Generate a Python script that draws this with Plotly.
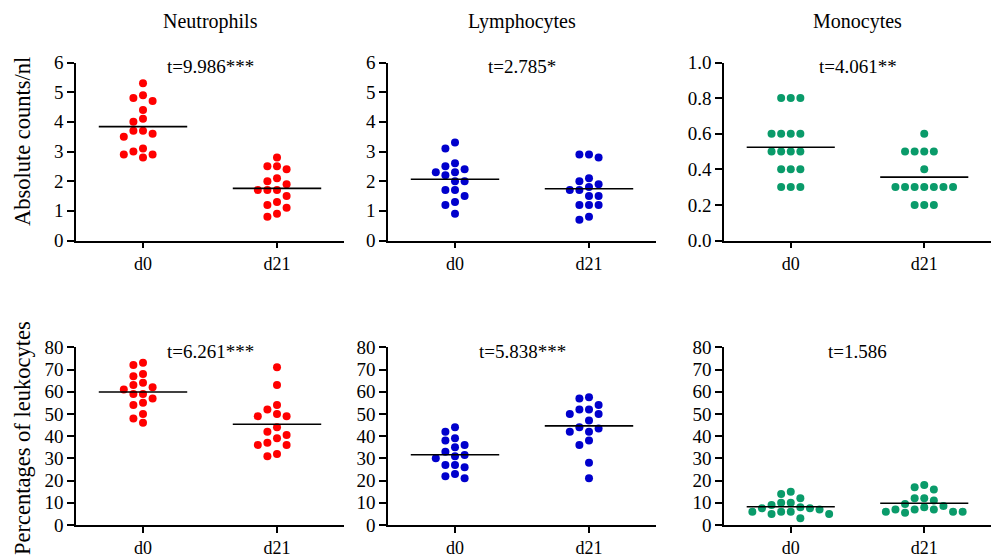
import numpy as np
import plotly.graph_objects as go

W, H = 992, 557

categories = ["d0", "d21"]
cell_types = ["Neutrophils", "Lymphocytes", "Monocytes"]
row_titles = ["Absolute counts/nl", "Percentages of leukocytes"]

# Absolute counts (cells/nl)
neut_abs_d0 = [5.3, 4.7, 4.8, 4.9, 4.4, 4.1, 4.0, 3.7, 3.6, 3.7, 3.5, 3.1, 2.9, 2.9, 2.8, 3.0]
neut_abs_d21 = [2.8, 2.4, 2.5, 2.5, 2.0, 2.1, 1.9, 1.7, 1.7, 1.7, 1.5, 1.3, 1.1, 1.2, 0.8, 0.9]
lymph_abs_d0 = [3.3, 3.1, 2.6, 2.4, 2.5, 2.3, 2.3, 2.2, 2.0, 2.0, 1.7, 1.7, 1.5, 1.3, 1.2, 0.9]
lymph_abs_d21 = [2.9, 2.8, 2.9, 2.0, 2.1, 1.9, 1.8, 1.7, 1.7, 1.5, 1.5, 1.2, 1.2, 1.2, 0.7, 0.8]
mono_abs_d0 = [0.8, 0.8, 0.8, 0.6, 0.6, 0.6, 0.6, 0.5, 0.5, 0.5, 0.5, 0.4, 0.4, 0.4, 0.3, 0.3, 0.3]
mono_abs_d21 = [0.6, 0.5, 0.5, 0.5, 0.5, 0.4, 0.3, 0.3, 0.3, 0.3, 0.3, 0.3, 0.3, 0.2, 0.2, 0.2]

# Percentages of leukocytes
neut_pct_d0 = [72, 73, 67, 68, 64, 63, 62, 61, 59, 59, 57, 55, 54, 50, 48, 46]
neut_pct_d21 = [71, 63, 54, 52, 49, 49, 50, 44, 40.5, 42, 39, 36, 36, 37, 31, 32]
lymph_pct_d0 = [44, 42, 39, 38, 36, 35, 33, 31, 31.5, 30, 27, 27, 26, 23, 21, 22]
lymph_pct_d21 = [57, 57.5, 54, 52, 50, 52, 50, 47, 44, 43.5, 42, 42, 38, 36, 28, 21]
mono_pct_d0 = [15, 14, 12, 10, 10, 9, 8, 7.5, 7, 7.5, 6, 6, 6, 5, 5, 3]
mono_pct_d21 = [18, 16, 17, 12, 12, 11, 9.5, 8.5, 8, 7, 7, 6, 5.5, 6, 6, 7]

t_labels_abs = ["t=9.986***", "t=2.785*", "t=4.061**"]
t_labels_pct = ["t=6.261***", "t=5.838***", "t=1.586"]

abs_ranges = [6, 6, 1.0]
abs_dtick = [1, 1, 0.2]
pct_range = 80
pct_dtick = 10

colors = ["#FF0000", "#0000CC", "#0A9B6A"]

panels = [
    (neut_abs_d0, neut_abs_d21), (lymph_abs_d0, lymph_abs_d21), (mono_abs_d0, mono_abs_d21),
    (neut_pct_d0, neut_pct_d21), (lymph_pct_d0, lymph_pct_d21), (mono_pct_d0, mono_pct_d21),
]

FONT = "Liberation Serif"

# layout in pixels
x_dom_px = [(76, 344), (388, 656), (724, 991)]
y_dom_px = [(62.5, 240.5), (347.3, 525)]  # top, bottom (from top of page)
row_title_center_px = [142, 438]

SLOT_PX = 9.6
DIAM = 8.5


def swarm(vals, px_per_unit_y, px_per_unit_x):
    order = np.argsort(-np.asarray(vals, dtype=float), kind="stable")
    placed = []
    offs = [0.0] * len(vals)
    cand = [0]
    for n in range(1, 30):
        cand += [-n, n]
    for i in order:
        yp = vals[i] * px_per_unit_y
        chosen = 0
        for s in cand:
            ok = True
            for ps, pyv in placed:
                if ((s - ps) * SLOT_PX) ** 2 + (yp - pyv) ** 2 < DIAM ** 2:
                    ok = False
                    break
            if ok:
                chosen = s
                break
        placed.append((chosen, yp))
        offs[i] = chosen * SLOT_PX / px_per_unit_x
    return offs


fig = go.Figure()
annotations = []

for p, (g0, g1) in enumerate(panels):
    row, col = divmod(p, 3)
    idx = p + 1
    xa = "x" if idx == 1 else f"x{idx}"
    ya = "y" if idx == 1 else f"y{idx}"
    x0px, x1px = x_dom_px[col]
    ytop, ybot = y_dom_px[row]
    ymax = abs_ranges[col] if row == 0 else pct_range
    dtick = abs_dtick[col] if row == 0 else pct_dtick
    ppu_y = (ybot - ytop) / ymax
    ppu_x = (x1px - x0px) / 2.0

    for gi, vals in enumerate((g0, g1)):
        offs = swarm(vals, ppu_y, ppu_x)
        xs = [gi + o for o in offs]
        fig.add_trace(go.Scatter(
            x=xs, y=vals, mode="markers", xaxis=xa, yaxis=ya,
            marker=dict(color=colors[col], size=8, line=dict(width=0)),
            showlegend=False, hoverinfo="y",
        ))
        m = float(np.mean(vals))
        fig.add_trace(go.Scatter(
            x=[gi - 0.33, gi + 0.33], y=[m, m], mode="lines", xaxis=xa, yaxis=ya,
            line=dict(color="black", width=1.6), showlegend=False, hoverinfo="skip",
        ))

    xdom = [x0px / W, x1px / W]
    ydom = [(H - ybot) / H, (H - ytop) / H]
    fmt = ".1f" if (row == 0 and col == 2) else "d"
    fig.update_layout(**{
        ("xaxis" if idx == 1 else f"xaxis{idx}"): dict(
            domain=xdom, anchor=ya, range=[-0.5, 1.5], automargin=False,
            tickmode="array", tickvals=[0, 1], ticktext=categories,
            showline=True, linecolor="black", linewidth=1.5,
            ticks="outside", ticklen=6, tickwidth=1.5, tickcolor="black",
            showgrid=False, zeroline=False,
            tickfont=dict(family=FONT, size=18, color="black"),
        ),
        ("yaxis" if idx == 1 else f"yaxis{idx}"): dict(
            domain=ydom, anchor=xa, range=[0, ymax], automargin=False,
            tick0=0, dtick=dtick, tickformat=fmt,
            showline=True, linecolor="black", linewidth=1.5,
            ticks="outside", ticklen=7, tickwidth=1.5, tickcolor="black",
            showgrid=False, zeroline=False,
            tickfont=dict(family=FONT, size=19, color="black"),
        ),
    })

    tlabel = t_labels_abs[col] if row == 0 else t_labels_pct[col]
    annotations.append(dict(
        text=tlabel, x=(x0px + x1px) / 2 / W, y=1 - (ytop + 4) / H,
        xref="paper", yref="paper", xanchor="center", yanchor="middle",
        showarrow=False, font=dict(family=FONT, size=19, color="black"),
    ))

for col, name in enumerate(cell_types):
    x0px, x1px = x_dom_px[col]
    annotations.append(dict(
        text=name, x=(x0px + x1px) / 2 / W, y=1 - 21 / H,
        xref="paper", yref="paper", xanchor="center", yanchor="middle",
        showarrow=False, font=dict(family=FONT, size=20, color="black"),
    ))

for row, name in enumerate(row_titles):
    annotations.append(dict(
        text=name, x=22 / W, y=1 - row_title_center_px[row] / H,
        xref="paper", yref="paper", xanchor="center", yanchor="middle",
        textangle=-90, showarrow=False, font=dict(family=FONT, size=22.5, color="black"),
    ))

fig.update_layout(
    width=W, height=H, margin=dict(l=0, r=0, t=0, b=0, autoexpand=False),
    paper_bgcolor="white", plot_bgcolor="white",
    font=dict(family=FONT, color="black"),
    annotations=annotations,
)

fig.write_html("out.html", config={"displayModeBar": False},
               post_script="document.body.style.margin='0px';")
